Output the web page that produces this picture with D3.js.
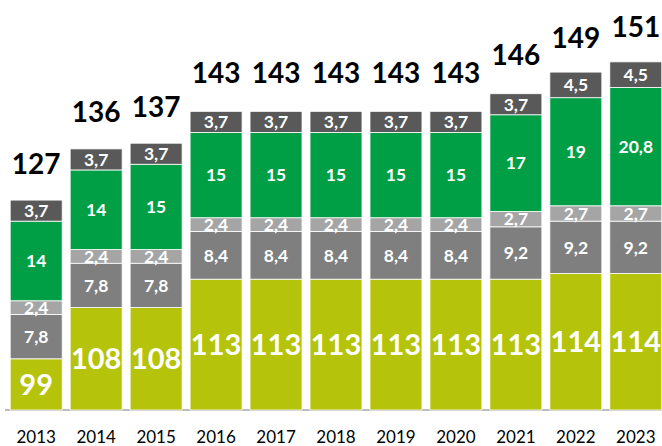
<!DOCTYPE html>
<html>
<head>
<meta charset="utf-8">
<script src="https://cdn.jsdelivr.net/npm/d3@7"></script>
<style>
  body { margin: 0; background: #fff; }
  text { font-family: Lato, "Open Sans", sans-serif; }
</style>
</head>
<body>
<div id="container"></div>
<script>
let w = 662;
let h = 446;

// DATA
let years = ["2013","2014","2015","2016","2017","2018","2019","2020","2021","2022","2023"];
let base = [99, 108, 108, 113, 113, 113, 113, 113, 113, 114, 114];
let grayDark = [7.8, 7.8, 7.8, 8.4, 8.4, 8.4, 8.4, 8.4, 9.2, 9.2, 9.2];
let grayLight = [2.4, 2.4, 2.4, 2.4, 2.4, 2.4, 2.4, 2.4, 2.7, 2.7, 2.7];
let green = [14, 14, 15, 15, 15, 15, 15, 15, 17, 19, 20.8];
let top5 = [3.7, 3.7, 3.7, 3.7, 3.7, 3.7, 3.7, 3.7, 3.7, 4.5, 4.5];
let totals = [127, 136, 137, 143, 143, 143, 143, 143, 146, 149, 151];

let seriesKeys = ["base", "grayDark", "grayLight", "green", "top5"];
let colors = {
  base: "#b5c40b",
  grayDark: "#7f7f7f",
  grayLight: "#a5a5a5",
  green: "#009f46",
  top5: "#595959"
};

let table = years.map(function(y, i){
  return {year: y, base: base[i], grayDark: grayDark[i], grayLight: grayLight[i],
          green: green[i], top5: top5[i], total: totals[i]};
});

let viz = d3.select("#container").append("svg")
    .attr("width", w)
    .attr("height", h)
    .style("display", "block");

// SCALES
let xScale = d3.scaleBand().domain(years).range([6, 666]).paddingInner(0.133).paddingOuter(0.07);
let yScale = d3.scaleLinear().domain([90, 151]).range([410, 63]);

let stacked = d3.stack().keys(seriesKeys)
  .offset(function(series, order){
    // start every stack at the axis minimum
    for (let j = 0; j < series[0].length; j++) {
      let s = 90;
      for (let k = 0; k < order.length; k++) {
        let p = series[order[k]][j];
        let v = p[1] - p[0];
        if (order[k] === 0) v = v - 90;
        p[0] = s; p[1] = s + v; s = p[1];
      }
    }
  })(table);

// baseline
viz.append("line")
  .attr("x1", 5).attr("x2", w)
  .attr("y1", 410).attr("y2", 410)
  .attr("stroke", "#a6a6a6").attr("stroke-width", 1.5);

let groups = viz.selectAll(".series").data(stacked).enter()
  .append("g").attr("class", "series")
  .attr("fill", function(d){ return colors[d.key]; });

groups.selectAll("rect").data(function(d){ return d; }).enter()
  .append("rect")
    .attr("x", function(d){ return xScale(d.data.year); })
    .attr("width", xScale.bandwidth())
    .attr("y", function(d){ return yScale(d[1]); })
    .attr("height", function(d){ return yScale(d[0]) - yScale(d[1]); })
    .attr("stroke", "#fff")
    .attr("stroke-width", 0.8);

// segment labels
groups.each(function(s){
  let isBase = s.key === "base";
  d3.select(this).selectAll("text").data(s).enter()
    .append("text")
      .attr("x", function(d){ return xScale(d.data.year) + xScale.bandwidth() / 2; })
      .attr("y", function(d){ return (yScale(d[0]) + yScale(d[1])) / 2; })
      .attr("dy", "0.36em")
      .attr("text-anchor", "middle")
      .attr("fill", "#fff")
      .attr("font-weight", "bold")
      .attr("font-size", isBase ? 29 : 17.5)
      .text(function(d){ return String(d.data[s.key]).replace(".", ","); });
});

// totals
viz.selectAll(".total").data(table).enter()
  .append("text")
    .attr("class", "total")
    .attr("x", function(d){ return xScale(d.year) + xScale.bandwidth() / 2; })
    .attr("y", function(d){ return yScale(d.total) - 26; })
    .attr("text-anchor", "middle")
    .attr("font-weight", "bold")
    .attr("font-size", 28)
    .attr("fill", "#000")
    .text(function(d){ return d.total; });

// x axis labels
viz.selectAll(".year").data(years).enter()
  .append("text")
    .attr("class", "year")
    .attr("x", function(d){ return xScale(d) + xScale.bandwidth() / 2; })
    .attr("y", 443)
    .attr("text-anchor", "middle")
    .attr("font-size", 17)
    .attr("fill", "#000")
    .text(function(d){ return d; });
</script>
</body>
</html>
